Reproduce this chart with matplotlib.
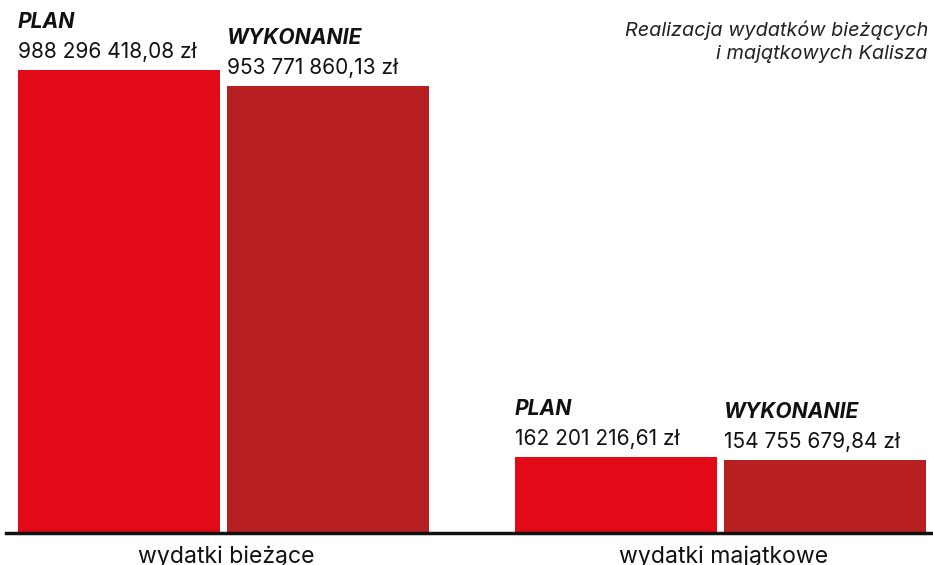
import matplotlib
matplotlib.use("Agg")
import matplotlib.pyplot as plt

categories = ["wydatki bieżące", "wydatki majątkowe"]
series_names = ["PLAN", "WYKONANIE"]
plan = [988296418.08, 162201216.61]
wykonanie = [953771860.13, 154755679.84]
plan_labels = ["988 296 418,08 zł", "162 201 216,61 zł"]
wyk_labels = ["953 771 860,13 zł", "154 755 679,84 zł"]
title = "Realizacja wydatków bieżących\ni majątkowych Kalisza"

colors = ["#e20a16", "#b81f21"]
FONT = ["Inter", "DejaVu Sans"]

fig = plt.figure(figsize=(9.33, 5.65), dpi=100)
W, H = 933, 565
base_px = 533
ax = fig.add_axes([6 / W, (H - base_px) / H, 927 / W, base_px / H])

unit = 497.0
width = 202 / unit
off = 104.5 / unit
x0 = 217.5 / unit
ax.set_xlim(-x0, -x0 + 927 / unit)
ymax = plan[0] * base_px / 463.0
ax.set_ylim(0, ymax)

for i, (vals, labs) in enumerate([(plan, plan_labels), (wykonanie, wyk_labels)]):
    xs = [g + (-off if i == 0 else off) for g in range(len(categories))]
    bars = ax.bar(xs, vals, width=width, color=colors[i], linewidth=0)
    for b, v, lab in zip(bars, vals, labs):
        left = b.get_x()
        ax.annotate(lab, (left, v), xytext=(0, 12), textcoords="offset pixels",
                    ha="left", va="baseline", fontsize=15, color="#111111",
                    family=FONT)
        ax.annotate(series_names[i], (left, v), xytext=(0, 42), textcoords="offset pixels",
                    ha="left", va="baseline", fontsize=15.2, color="#111111",
                    fontweight="bold", fontstyle="italic", family=FONT)

for g, c in enumerate(categories):
    ax.annotate(c, (g, 0), xytext=(3, -12), textcoords="offset pixels",
                ha="center", va="top", fontsize=16.6, color="#111111", family=FONT,
                annotation_clip=False)

fig.text(928 / W, 1 - 20 / H, title, ha="right", va="top", fontsize=14.3,
         fontstyle="italic", color="#222222", family=FONT, linespacing=1.4)

for s in ["top", "right", "left"]:
    ax.spines[s].set_visible(False)
ax.spines["bottom"].set_linewidth(2.5)
ax.spines["bottom"].set_color("#111111")
ax.set_xticks([])
ax.set_yticks([])
ax.patch.set_alpha(0)

fig.savefig("out.png", dpi=100)
